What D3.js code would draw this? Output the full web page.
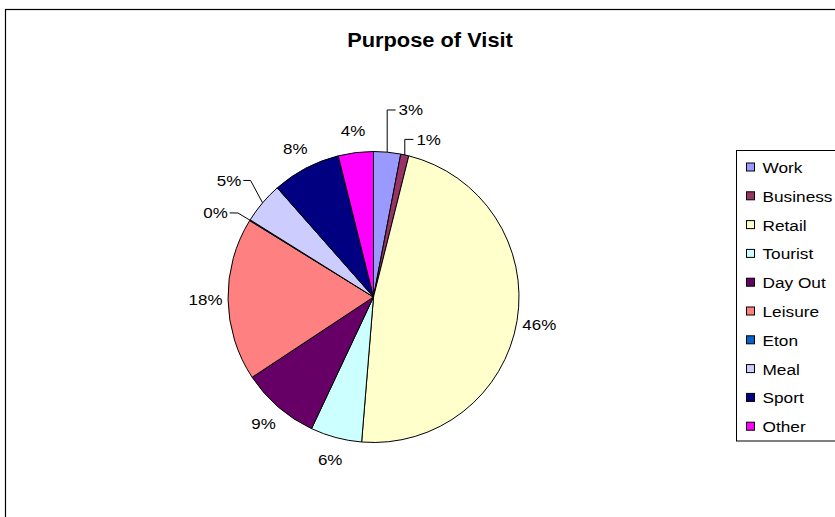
<!DOCTYPE html>
<html lang="en">
	<head>
		<meta charset="utf-8">
		<title>Purpose of Visit</title>
		<script type="text/javascript" src="https://cdn.jsdelivr.net/npm/d3@7/dist/d3.min.js"></script>
		<style type="text/css">
			body { margin: 0; background: #fff; }
			svg { display: block; }
		</style>
	</head>
	<body>
		<script type="text/javascript">

			//Data
			var categories = ["Work", "Business", "Retail", "Tourist", "Day Out", "Leisure", "Eton", "Meal", "Sport", "Other"];
			var shares = [3.0, 0.9, 47.4, 5.7, 8.7, 18.1, 0.1, 4.6, 7.6, 3.9];
			var pctLabels = ["3%", "1%", "46%", "6%", "9%", "18%", "0%", "5%", "8%", "4%"];
			var colours = ["#9999FF", "#993366", "#FFFFCC", "#CCFFFF", "#660066", "#FF8080", "#0066CC", "#CCCCFF", "#000080", "#FF00FF"];

			//Width and height
			var w = 835;
			var h = 517;
			var cx = 373.5, cy = 297, r = 145.5;
			var stretch = 1.13;   //text in the original is a bit wide
			var font = "'Liberation Sans', Arial, sans-serif";

			var svg = d3.select("body")
						.append("svg")
						.attr("width", w)
						.attr("height", h);

			//chart frame
			svg.append("rect")
			   .attr("x", 5.5)
			   .attr("y", 9.5)
			   .attr("width", 900)
			   .attr("height", 600)
			   .attr("fill", "#fff")
			   .attr("stroke", "#000")
			   .attr("stroke-width", 1.2);

			//title
			svg.append("text")
			   .attr("transform", "translate(430,47) scale(1.12,1)")
			   .attr("text-anchor", "middle")
			   .attr("font-family", font)
			   .attr("font-weight", "bold")
			   .attr("font-size", "19.5px")
			   .text("Purpose of Visit");

			var data = categories.map(function(c, i) {
				return {name: c, value: shares[i], label: pctLabels[i], colour: colours[i]};
			});

			var pie = d3.pie()
						.sort(null)
						.value(function(d) { return d.value; });

			var arc = d3.arc().innerRadius(0).outerRadius(r);
			var edgeArc = d3.arc().innerRadius(r).outerRadius(r);
			var labelArc = d3.arc().innerRadius(168).outerRadius(168);

			var g = svg.append("g")
					   .attr("transform", "translate(" + cx + "," + cy + ")");

			var arcs = pie(data);

			g.selectAll("path.slice")
			 .data(arcs)
			 .enter()
			 .append("path")
			 .attr("class", "slice")
			 .attr("d", arc)
			 .attr("fill", function(d) { return d.data.colour; })
			 .attr("stroke", "#000")
			 .attr("stroke-width", 1)
			 .attr("stroke-linejoin", "round");

			//small slices get their label pushed out with a leader line (angle in degrees, radius)
			var moved = {
				"Work": [11.3, 190.7],
				"Business": [19.3, 167],
				"Eton": [298, 179],
				"Meal": [308.9, 185.6]
			};

			function labelPos(d) {
				var m = moved[d.data.name];
				if (m) {
					var a = m[0] * Math.PI / 180;
					return [m[1] * Math.sin(a), -m[1] * Math.cos(a)];
				}
				return labelArc.centroid(d);
			}

			var labels = g.selectAll("text.pct")
						  .data(arcs)
						  .enter()
						  .append("text")
						  .attr("class", "pct")
						  .attr("transform", function(d) {
							  var p = labelPos(d);
							  return "translate(" + p[0] + "," + p[1] + ") scale(" + stretch + ",1)";
						  })
						  .attr("dy", "0.35em")
						  .attr("text-anchor", "middle")
						  .attr("font-family", font)
						  .attr("font-size", "15px")
						  .attr("fill", "#000")
						  .text(function(d) { return d.data.label; });

			//leader lines
			labels.each(function(d) {
				if (!moved[d.data.name]) return;
				var hw = this.getComputedTextLength() * stretch / 2;
				var p = labelPos(d);
				var e = edgeArc.centroid(d);
				var pts;
				if (p[0] > e[0]) {
					pts = [e, [e[0], p[1]], [p[0] - hw - 3, p[1]]];
				} else {
					pts = [e, [e[0] - 12, p[1]], [p[0] + hw + 2, p[1]]];
				}
				g.append("path")
				 .attr("d", d3.line()(pts))
				 .attr("fill", "none")
				 .attr("stroke", "#000")
				 .attr("stroke-width", 1);
			});

			//legend
			var lx = 736.5, ly = 150.5, rowH = 28.8, row0 = 167.5;

			svg.append("rect")
			   .attr("x", lx)
			   .attr("y", ly)
			   .attr("width", 200)
			   .attr("height", 290.5)
			   .attr("fill", "#fff")
			   .attr("stroke", "#000")
			   .attr("stroke-width", 1);

			var legend = svg.selectAll("g.key")
							.data(data)
							.enter()
							.append("g")
							.attr("class", "key")
							.attr("transform", function(d, i) {
								return "translate(0," + (row0 + i * rowH) + ")";
							});

			legend.append("rect")
				  .attr("x", 746.5)
				  .attr("y", -4.5)
				  .attr("width", 8)
				  .attr("height", 8)
				  .attr("fill", function(d) { return d.colour; })
				  .attr("stroke", "#000")
				  .attr("stroke-width", 1);

			legend.append("text")
				  .attr("transform", "translate(762.5,5.5) scale(1.15,1)")
				  .attr("font-family", font)
				  .attr("font-size", "15px")
				  .attr("fill", "#000")
				  .text(function(d) { return d.name; });

		</script>
	</body>
</html>
